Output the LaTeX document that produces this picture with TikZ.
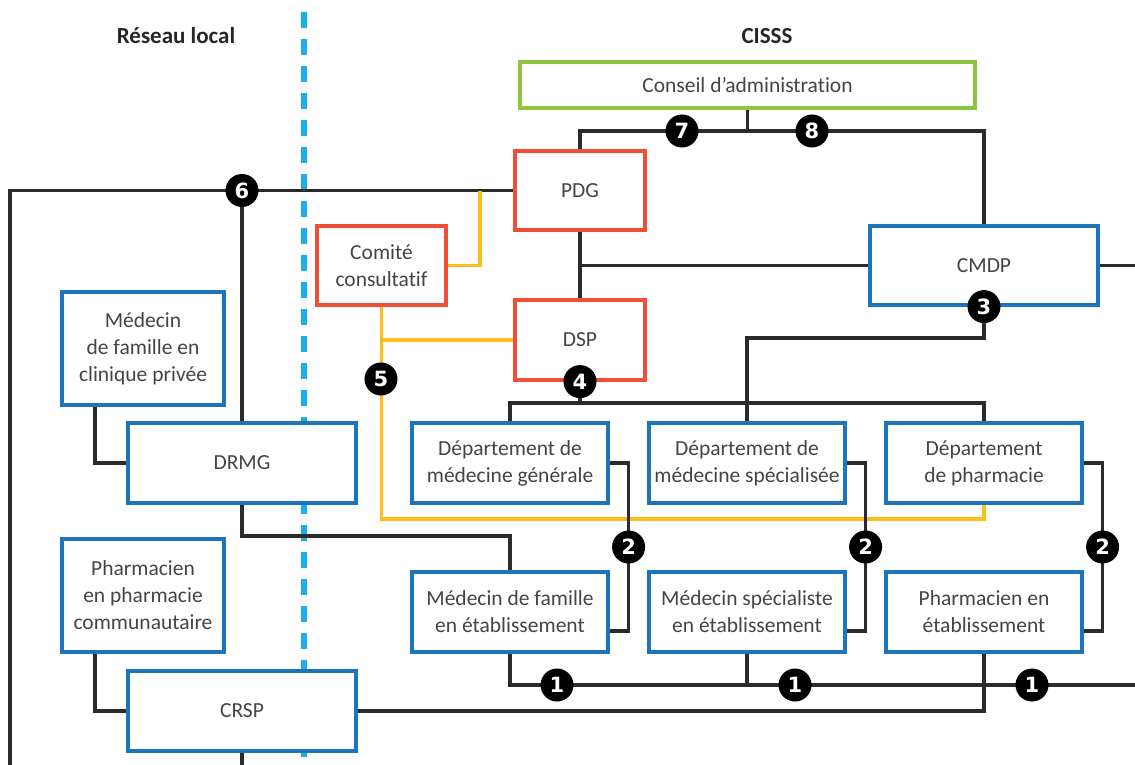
\documentclass[tikz,border=0pt]{standalone}
\usepackage{fontspec}
\usetikzlibrary{backgrounds}
\newfontfamily\bodyf{Carlito}[Ligatures=NoCommon]
\newfontfamily\badgef{DejaVu Sans}
\definecolor{txtgray}{HTML}{444444}
\definecolor{lgray}{HTML}{2B2B2B}
\definecolor{bblue}{HTML}{1C75BC}
\definecolor{bred}{HTML}{F04E37}
\definecolor{bgreen}{HTML}{8CC63F}
\definecolor{byellow}{HTML}{FDBE1A}
\definecolor{bcyan}{HTML}{1AAEEF}
\tikzset{
  box/.style={draw, line width=3.2pt, fill=white, inner sep=0pt, text=txtgray, align=center,
    font=\bodyf\fontsize{21.5}{27}\selectfont},
  bluebox/.style={box, draw=bblue},
  redbox/.style={box, draw=bred},
  greenbox/.style={box, draw=bgreen},
  link/.style={line width=3.2pt, draw=lgray},
  ylink/.style={line width=3.2pt, draw=byellow},
  dashline/.style={line width=5.5pt, draw=bcyan, dash pattern=on 16pt off 11pt},
  badge/.style={circle, fill=black, text=white, minimum size=33pt, inner sep=0pt,
    font=\badgef\bfseries\fontsize{21}{21}\selectfont},
  title/.style={text=black!85, font=\bodyf\bfseries\fontsize{23}{27}\selectfont},
}
\begin{document}
\begin{tikzpicture}[x=1pt,y=-1pt]
\useasboundingbox (0,0) rectangle (1135,765);

% titles
\node[title] (tloc) at (176,36) {Réseau local};
\node[title] (tcis) at (767,36) {CISSS};

% boxes
\node[greenbox, minimum width=455pt, minimum height=46pt] (conseil) at (747.5,85) {Conseil d’administration};
\node[redbox, minimum width=130pt, minimum height=79pt] (pdg) at (580,190.5) {PDG};
\node[redbox, minimum width=130pt, minimum height=80pt] (dsp) at (580,340) {DSP};
\node[redbox, minimum width=129pt, minimum height=79pt] (comite) at (381.5,265.5) {Comité\\consultatif};
\node[bluebox, minimum width=228pt, minimum height=79pt] (cmdp) at (984,265.5) {CMDP};
\node[bluebox, minimum width=162pt, minimum height=113pt] (medpriv) at (143,348.5) {Médecin\\de famille en\\clinique privée};
\node[bluebox, minimum width=228pt, minimum height=80pt] (drmg) at (242,463) {DRMG};
\node[bluebox, minimum width=162pt, minimum height=113pt] (pharcom) at (143,595.5) {Pharmacien\\en pharmacie\\communautaire};
\node[bluebox, minimum width=228pt, minimum height=80pt] (crsp) at (242,711) {CRSP};
\node[bluebox, minimum width=196pt, minimum height=80pt] (dgen) at (510,463) {Département de\\médecine générale};
\node[bluebox, minimum width=196pt, minimum height=80pt] (dspe) at (747,463) {Département de\\médecine spécialisée};
\node[bluebox, minimum width=196pt, minimum height=80pt] (dphar) at (984,463) {Département\\de pharmacie};
\node[bluebox, minimum width=196pt, minimum height=80pt] (mfam) at (510,612) {Médecin de famille\\en établissement};
\node[bluebox, minimum width=196pt, minimum height=80pt] (mspe) at (747,612) {Médecin spécialiste\\en établissement};
\node[bluebox, minimum width=196pt, minimum height=80pt] (phet) at (984,612) {Pharmacien en\\établissement};

% helper coordinates
\coordinate (yT) at (0,131);
\coordinate (lbot) at (10,765);
\coordinate (redge) at (1135,0);
\coordinate (yx) at (480,0);
\coordinate (yB) at (0,519);
\coordinate (yD) at (0,403);
\coordinate (yC) at (0,338);
\coordinate (yE) at (0,536);
\coordinate (yF) at (0,685);
\coordinate (mfR) at ([yshift=-19pt]mfam.east);
\coordinate (msR) at ([yshift=-19pt]mspe.east);
\coordinate (phR) at ([yshift=-19pt]phet.east);
\coordinate (mpS) at ([xshift=-48pt]medpriv.south);
\coordinate (pcS) at ([xshift=-48pt]pharcom.south);
\coordinate (b5c) at (381,379);

\begin{scope}[on background layer]
\fill[white] (0,0) rectangle (1135,765);
% divider
\draw[dashline] (304,12) -- (304,765);
% top connectors
\draw[link] (pdg.north) -- (pdg.north |- yT) -- (cmdp.north |- yT) -- (cmdp.north);
\draw[link] (conseil.south) -- (conseil.south |- yT);
% line 6
\draw[link] (lbot) -- (lbot |- pdg.west) -- (pdg.west);
\draw[link] (drmg.north) -- (drmg.north |- pdg.west);
% yellow links
\draw[ylink] (comite.east) -| (yx |- pdg.west);
\draw[ylink] (comite.south) -- (comite.south |- yB) -- (dphar.south |- yB) -- (dphar.south);
\draw[ylink] (comite.south |- dsp.west) -- (dsp.west);
% PDG / DSP / CMDP
\draw[link] (pdg.south) -- (dsp.north);
\draw[link] (pdg.south |- cmdp.west) -- (cmdp.west);
\draw[link] (cmdp.east) -- (cmdp.east -| redge);
\draw[link] (dsp.south) -- (dsp.south |- yD);
\draw[link] (dgen.north) -- (dgen.north |- yD) -- (dphar.north |- yD) -- (dphar.north);
\draw[link] (cmdp.south) -- (cmdp.south |- yC) -- (dspe.north |- yC) -- (dspe.north);
% local network
\draw[link] (drmg.south) -- (drmg.south |- yE) -- (mfam.north |- yE) -- (mfam.north);
\draw[link] (mpS) |- (drmg.west);
\draw[link] (pcS) |- (crsp.west);
\draw[link] (crsp.east) -| (phet.south);
\draw[link] (crsp.south) -- (crsp.south |- lbot);
% bottom line 1
\draw[link] (mfam.south) -- (mfam.south |- yF) -- (redge |- yF);
\draw[link] (mspe.south) -- (mspe.south |- yF);
% connectors 2
\draw[link] (dgen.east) -- ++(19,0) coordinate (c2a) -- (c2a |- mfR) -- (mfR);
\draw[link] (dspe.east) -- ++(19,0) coordinate (c2b) -- (c2b |- msR) -- (msR);
\draw[link] (dphar.east) -- ++(19,0) coordinate (c2c) -- (c2c |- phR) -- (phR);
\end{scope}

% badges
\node[badge] (b7) at (682,131) {7};
\node[badge] (b8) at (812,131) {8};
\node[badge] (b6) at (drmg.north |- pdg.west) {6};
\node[badge] (b5) at (b5c) {5};
\node[badge] (b4) at (dsp.south) {4};
\node[badge] (b3) at (cmdp.south) {3};
\node[badge] (b2a) at (c2a |- 0,547) {2};
\node[badge] (b2b) at (c2b |- 0,547) {2};
\node[badge] (b2c) at (c2c |- 0,547) {2};
\node[badge] (b1a) at (557,685) {1};
\node[badge] (b1b) at (795,685) {1};
\node[badge] (b1c) at (1032,685) {1};
\end{tikzpicture}
\end{document}
